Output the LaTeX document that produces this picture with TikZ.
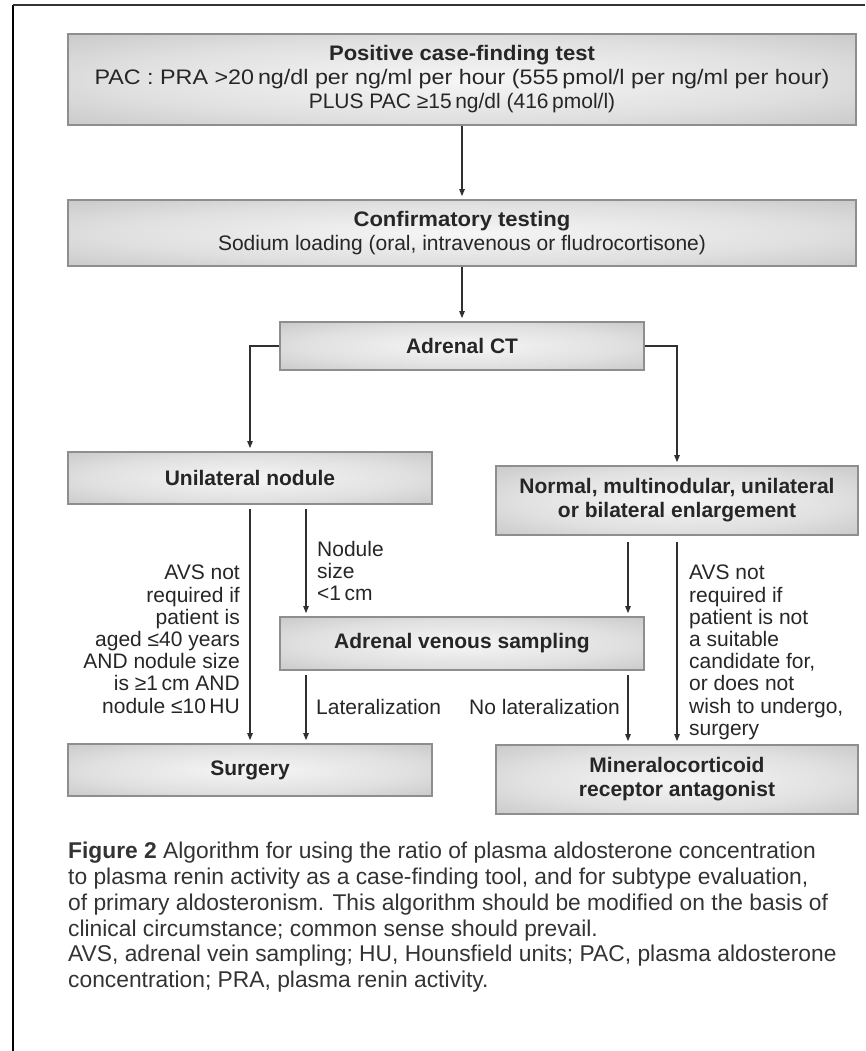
\documentclass[tikz,border=0pt]{standalone}
\usepackage{fontspec}
\setmainfont{Liberation Sans}
\usetikzlibrary{arrows.meta}
\definecolor{boxedge}{HTML}{8E8E8E}
\definecolor{boxin}{HTML}{F6F6F6}
\definecolor{boxmid}{HTML}{E0E0E0}
\definecolor{boxout}{HTML}{C9C9C9}
\definecolor{ink}{HTML}{262626}
\definecolor{capink}{HTML}{333333}
\definecolor{conn}{HTML}{303030}
\pgfdeclareradialshading{boxshade}{\pgfpoint{0bp}{0bp}}{color(0bp)=(boxin); color(22bp)=(boxmid); color(36bp)=(boxout); color(50bp)=(boxout)}
\tikzset{
  box/.style={draw=boxedge, line width=1.8pt, shade, shading=boxshade, inner sep=0pt, align=center, text=ink, font=\fontsize{21}{24}\selectfont},
  boxb/.style={box, font=\fontsize{21}{24}\selectfont\bfseries},
  conn/.style={draw=conn, line width=1.1pt, -{Triangle[length=7pt,width=5.5pt]}, shorten >=3pt},
  lbl/.style={inner sep=0pt, text=ink, font=\fontsize{21}{22.2}\selectfont},
}
\begin{document}
\begin{tikzpicture}[x=1pt,y=-1pt]
\useasboundingbox (0,0) rectangle (865,1051);
% frame
\coordinate (f1) at (13,1051);
\coordinate (f2) at (13,5);
\coordinate (f3) at (865,5);
\draw[line width=2.2pt, black] (f1) -- (f2);
\draw[line width=1.6pt, black!80] (f2) -- (f3);

% boxes
\node[box, minimum width=788pt, minimum height=91pt] (b1) at (462,79.5)
  {\scalebox{1.05}[1]{\textbf{Positive case-finding test}}\\\scalebox{1.11}[1]{PAC : PRA >20\,ng/dl per ng/ml per hour (555\,pmol/l per ng/ml per hour)}\\PLUS PAC ≥15\,ng/dl (416\,pmol/l)};
\node[box, minimum width=788pt, minimum height=66pt] (b2) at (462,233)
  {\scalebox{1.05}[1]{\textbf{Confirmatory testing}}\\Sodium loading (oral, intravenous or fludrocortisone)};
\node[boxb, minimum width=364pt, minimum height=48pt] (b3) at (462,346) {Adrenal CT};
\node[boxb, minimum width=364pt, minimum height=52pt] (b4) at (250,478) {Unilateral nodule};
\node[boxb, minimum width=362pt, minimum height=69pt] (b5) at (677,500.5) {Normal, multinodular, unilateral\\or bilateral enlargement};
\node[boxb, minimum width=364pt, minimum height=53pt] (b6) at (462,643.5) {Adrenal venous sampling};
\node[boxb, minimum width=364pt, minimum height=52pt] (b7) at (250,770) {Surgery};
\node[boxb, minimum width=362pt, minimum height=69pt] (b8) at (677,779.5) {Mineralocorticoid\\receptor antagonist};

% helper x positions
\coordinate (xl) at (306,0);
\coordinate (xr) at (628,0);

% connectors
\draw[conn] (b1) -- (b2);
\draw[conn] (b2) -- (b3);
\draw[conn] (b3.west) -| (b4.north);
\draw[conn] (b3.east) -| (b5.north);
\draw[conn, shorten <=4pt] (b4.south) -- (b7.north);
\draw[conn, shorten <=4pt] (b4.south -| xl) -- (b6.north -| xl);
\draw[conn, shorten <=6pt] (b5.south -| xr) -- (b6.north -| xr);
\draw[conn, shorten <=6pt] (b5.south) -- (b8.north);
\draw[conn, shorten <=4pt] (b6.south -| xl) -- (b7.north -| xl);
\draw[conn, shorten <=4pt] (b6.south -| xr) -- (b8.north -| xr);

% labels
\node[lbl, anchor=north east, align=right] (t1) at (240,565)
  {AVS not\\required if\\patient is\\aged ≤40 years\\AND nodule size\\is ≥1\,cm AND\\nodule ≤10\,HU};
\node[lbl, anchor=north west, align=left] (t2) at (317,541) {Nodule\\size\\<1\,cm};
\node[lbl, anchor=north west, align=left] (t3) at (689,565)
  {AVS not\\required if\\patient is not\\a suitable\\candidate for,\\or does not\\wish to undergo,\\surgery};
\node[lbl, anchor=north west] (t4) at (316,699) {Lateralization};
\node[lbl, anchor=north east] (t5) at (620,699) {No lateralization};

% caption
\node[anchor=north west, align=left, inner sep=0pt, text=capink, font=\fontsize{22.8}{25.8}\selectfont] (cap) at (68,842)
  {\textbf{Figure 2} Algorithm for using the ratio of plasma aldosterone concentration\\
   to plasma renin activity as a case-finding tool, and for subtype evaluation,\\
   of primary aldosteronism. This algorithm should be modified on the basis of\\
   clinical circumstance; common sense should prevail.\\
   AVS, adrenal vein sampling; HU, Hounsfield units; PAC, plasma aldosterone\\
   concentration; PRA, plasma renin activity.};
\end{tikzpicture}
\end{document}
